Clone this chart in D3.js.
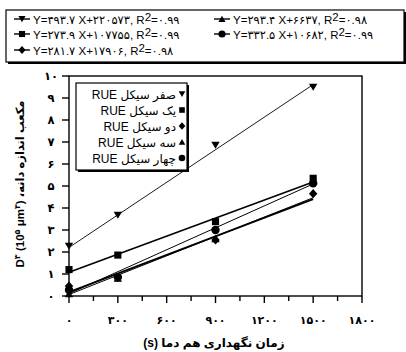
<!DOCTYPE html>
<html lang="fa">
<head>
<meta charset="UTF-8">
<title>D3 vs time</title>
<script src="https://d3js.org/d3.v7.min.js"></script>
<style>
    body { margin: 0; background: #fff; }
    svg { display: block; font-family: Arial, "Liberation Sans", "DejaVu Sans", sans-serif; }
</style>
</head>
<body>
<svg width="406" height="352"></svg>
<script>
// holding time (s) at which D^3 was measured
const times = [0, 300, 900, 1500];
const cycles = ["صفر", "یک", "دو", "سه", "چهار"];
const shapes = ["triDown", "square", "diamond", "triUp", "circle"];
// D^3 (10^5 um^3)
const rue0 = [2.27, 3.68, 6.86, 9.5];
const rue1 = [1.2, 1.86, 3.38, 5.35];
const rue2 = [0.45, 0.85, 2.55, 4.65];
const rue3 = [0.1, 0.8, 2.6, 5.2];
const rue4 = [0.27, 0.85, 3.0, 5.12];
const seriesVals = [rue0, rue1, rue2, rue3, rue4];
// fitted lines from the top legend
const slopes = ["493.7", "273.9", "281.7", "293.4", "332.5"];
const intercepts = ["220573", "107755", "17906", "6637", "10682"];
const r2 = ["0.99", "0.99", "0.98", "0.98", "0.99"];
const lineWidths = [0.9, 1.6, 1.8, 1, 1];
const xTicks = [0, 300, 600, 900, 1200, 1500, 1800];
const yTicks = d3.range(0, 11);

const fa = s => String(s).replace(/\d/g, d => "۰۱۲۳۴۵۶۷۸۹"[d]);

const svg = d3.select("svg");
const x = d3.scaleLinear().domain([0, 1800]).range([69, 362]);
const y = d3.scaleLinear().domain([0, 10]).range([296, 76]);

function symbolPath(shape, size) {
    const s = size;
    if (shape === "triDown") return `M${-s},${-s * 0.8}L${s},${-s * 0.8}L0,${s * 0.9}Z`;
    if (shape === "triUp") return `M${-s},${s * 0.8}L${s},${s * 0.8}L0,${-s * 0.9}Z`;
    if (shape === "square") return `M${-s * 0.85},${-s * 0.85}h${s * 1.7}v${s * 1.7}h${-s * 1.7}Z`;
    if (shape === "diamond") return `M0,${-s * 1.1}L${s},0L0,${s * 1.1}L${-s},0Z`;
    return d3.symbol(d3.symbolCircle, Math.PI * s * s)();
}

// plot frame
svg.append("rect").attr("x", x(0)).attr("y", y(10))
    .attr("width", x(1800) - x(0)).attr("height", y(0) - y(10))
    .attr("fill", "none").attr("stroke", "#000").attr("stroke-width", 1.4);

// x axis ticks
const gx = svg.append("g");
d3.range(0, 1801, 150).forEach(t => {
    const major = t % 300 === 0;
    gx.append("line").attr("x1", x(t)).attr("x2", x(t))
        .attr("y1", y(0)).attr("y2", y(0) + (major ? 7 : 5))
        .attr("stroke", "#000").attr("stroke-width", 1.4);
});
gx.selectAll("text").data(xTicks).join("text")
    .attr("x", d => x(d)).attr("y", 324)
    .attr("text-anchor", "middle").attr("font-size", 11).attr("font-weight", "bold")
    .text(d => fa(d));

// y axis ticks
const gy = svg.append("g");
yTicks.forEach(v => {
    gy.append("line").attr("x1", x(0) - 7).attr("x2", x(0))
        .attr("y1", y(v)).attr("y2", y(v))
        .attr("stroke", "#000").attr("stroke-width", 1.4);
});
gy.selectAll("text").data(yTicks).join("text")
    .attr("x", 51).attr("y", d => y(d) + 4)
    .attr("text-anchor", "middle").attr("font-size", 11.5).attr("font-weight", "bold")
    .text(d => fa(d));

// axis titles
svg.append("text").attr("x", 214).attr("y", 347)
    .attr("text-anchor", "middle").attr("font-size", 12).attr("font-weight", "bold")
    .text("(s) زمان نگهداری هم دما");

const yl = svg.append("text")
    .attr("transform", "translate(24,184) rotate(-90)")
    .attr("text-anchor", "middle").attr("font-size", 11.5).attr("font-weight", "bold");
yl.append("tspan").text("D");
yl.append("tspan").attr("dy", -4).attr("font-size", 8).text("۳");
yl.append("tspan").attr("dy", 4).text(" (10");
yl.append("tspan").attr("dy", -4).attr("font-size", 8).text("۵");
yl.append("tspan").attr("dy", 4).text(" μm");
yl.append("tspan").attr("dy", -4).attr("font-size", 8).text("۳");
yl.append("tspan").attr("dy", 4).text(") ،مکعب اندازه دانه");

// fitted lines and measured points
seriesVals.forEach((vals, i) => {
    const fit = t => (parseFloat(slopes[i]) * t + parseFloat(intercepts[i])) / 1e5;
    svg.append("line")
        .attr("x1", x(0)).attr("y1", y(fit(0)))
        .attr("x2", x(1500)).attr("y2", y(fit(1500)))
        .attr("stroke", "#000").attr("stroke-width", lineWidths[i]);
    svg.append("g").selectAll("path").data(vals).join("path")
        .attr("transform", (d, j) => `translate(${x(times[j])},${y(d)})`)
        .attr("d", symbolPath(shapes[i], 4.2))
        .attr("fill", "#000");
});

// inner legend
const lg = svg.append("g");
lg.append("rect").attr("x", 78).attr("y", 85).attr("width", 111).attr("height", 87).attr("fill", "#000");
lg.append("rect").attr("x", 76).attr("y", 83).attr("width", 111).attr("height", 87)
    .attr("fill", "#fff").attr("stroke", "#000").attr("stroke-width", 1.2);
cycles.forEach((c, i) => {
    const yy = 94 + i * 16;
    lg.append("path").attr("transform", `translate(182,${yy})`)
        .attr("d", symbolPath(shapes[i], 3.3)).attr("fill", "#000");
    lg.append("text").attr("x", 176).attr("y", yy + 4.5)
        .attr("text-anchor", "end").attr("font-size", 12)
        .text("RUE " + c + " سیکل");
});

// top legend with the fitted equations
const tl = svg.append("g");
tl.append("rect").attr("x", 8).attr("y", 12).attr("width", 398).attr("height", 52).attr("fill", "#000");
tl.append("rect").attr("x", 6).attr("y", 10).attr("width", 398).attr("height", 52)
    .attr("fill", "#fff").attr("stroke", "#000").attr("stroke-width", 1.2);
const slots = [[0, 22, 19], [3, 222, 19], [1, 22, 34], [4, 222, 34], [2, 22, 50]];
slots.forEach(([i, mx, my]) => {
    tl.append("line").attr("x1", mx - 8).attr("x2", mx + 8).attr("y1", my).attr("y2", my)
        .attr("stroke", "#000").attr("stroke-width", 1.4);
    tl.append("path").attr("transform", `translate(${mx},${my})`)
        .attr("d", symbolPath(shapes[i], 3.6)).attr("fill", "#000");
    const t = tl.append("text").attr("x", mx + 11).attr("y", my + 4.5).attr("font-size", 11.5);
    t.append("tspan").text("Y=" + fa(slopes[i]) + " X+" + fa(intercepts[i]) + ", R");
    t.append("tspan").attr("dy", -3).text("2");
    t.append("tspan").attr("dy", 3).text("=" + fa(r2[i]));
});
</script>
</body>
</html>
